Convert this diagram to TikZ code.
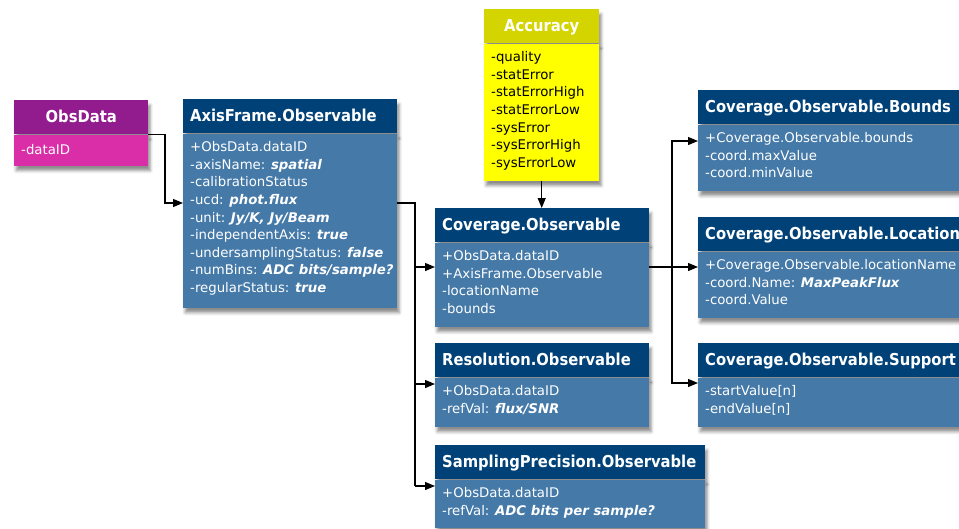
\documentclass[tikz,border=0pt]{standalone}
\usepackage{fontspec}
\setmainfont{DejaVu Sans}
\newfontfamily\hdrfont{DejaVu Sans Condensed}
\usetikzlibrary{arrows.meta,shadows.blur}
\definecolor{hblue}{RGB}{0,66,120}
\definecolor{bblue}{RGB}{68,121,168}
\definecolor{hpurple}{RGB}{146,28,142}
\definecolor{bmag}{RGB}{218,46,168}
\definecolor{hyel}{RGB}{212,212,0}
\definecolor{byel}{RGB}{255,255,0}
\tikzset{
  shd/.style={blur shadow={shadow xshift=2pt,shadow yshift=-5pt,shadow blur radius=3pt,shadow opacity=45}},
  hdr/.style={rectangle,anchor=north west,inner xsep=7pt,inner ysep=0pt,minimum height=34pt,
    text height=12pt,text depth=1pt,font=\hdrfont\fontsize{16.4}{18}\selectfont\bfseries,text=white,align=left,shd},
  bodybox/.style={rectangle,anchor=north west,inner sep=0pt,shd},
  txt/.style={anchor=north west,inner sep=0pt,align=left,text=white,
    font=\fontsize{13.3}{17.6}\selectfont,execute at begin node=\rule{0pt}{12pt}},
  conn/.style={draw=black,line width=1.2pt},
  arr/.style={conn,-{Triangle[length=10pt,width=8pt]}}
}
\newcommand{\bi}[1]{\textbf{\textit{#1}}}
\begin{document}
\begin{tikzpicture}[x=1pt,y=-1pt]
\useasboundingbox (0,0) rectangle (959,528);
% ObsData
\node[hdr,fill=hpurple,text width=120pt,align=center] (obs-h) at (14,100) {ObsData};
\node[bodybox,fill=bmag,minimum width=134pt,minimum height=31pt] (obs) at (obs-h.south west) {};
\node[txt] (obs-t) at ([xshift=7pt,yshift=-8pt]obs.north west) {-dataID};
% AxisFrame
\node[hdr,fill=hblue,text width=200pt] (axis-h) at (183,99) {AxisFrame.Observable};
\node[bodybox,fill=bblue,minimum width=214pt,minimum height=174pt] (axis) at (axis-h.south west) {};
\node[txt] (axis-t) at ([xshift=7pt,yshift=-8pt]axis.north west) {+ObsData.dataID\\-axisName: \bi{spatial}\\-calibrationStatus\\-ucd: \bi{phot.flux}\\-unit: \bi{Jy/K, Jy/Beam}\\-independentAxis: \bi{true}\\-undersamplingStatus: \bi{false}\\-numBins: \bi{ADC bits/sample?}\\-regularStatus: \bi{true}};
% Accuracy
\node[hdr,fill=hyel,text width=101pt,align=center] (acc-h) at (484,9) {Accuracy};
\node[bodybox,fill=byel,minimum width=115pt,minimum height=137pt] (acc) at (acc-h.south west) {};
\node[txt,text=black] (acc-t) at ([xshift=7pt,yshift=-8pt]acc.north west) {-quality\\-statError\\-statErrorHigh\\-statErrorLow\\-sysError\\-sysErrorHigh\\-sysErrorLow};
% Coverage
\node[hdr,fill=hblue,text width=200pt] (cov-h) at (435,208) {Coverage.Observable};
\node[bodybox,fill=bblue,minimum width=214pt,minimum height=84pt] (cov) at (cov-h.south west) {};
\node[txt] (cov-t) at ([xshift=7pt,yshift=-8pt]cov.north west) {+ObsData.dataID\\+AxisFrame.Observable\\-locationName\\-bounds};
% Resolution
\node[hdr,fill=hblue,text width=200pt] (res-h) at (435,343) {Resolution.Observable};
\node[bodybox,fill=bblue,minimum width=214pt,minimum height=49pt] (res) at (res-h.south west) {};
\node[txt] (res-t) at ([xshift=7pt,yshift=-8pt]res.north west) {+ObsData.dataID\\-refVal: \bi{flux/SNR}};
% SamplingPrecision
\node[hdr,fill=hblue,text width=256pt] (samp-h) at (435,445) {SamplingPrecision.Observable};
\node[bodybox,fill=bblue,minimum width=270pt,minimum height=48pt] (samp) at (samp-h.south west) {};
\node[txt] (samp-t) at ([xshift=7pt,yshift=-8pt]samp.north west) {+ObsData.dataID\\-refVal: \bi{ADC bits per sample?}};
% Bounds
\node[hdr,fill=hblue,text width=256pt] (bnd-h) at (698,90) {Coverage.Observable.Bounds};
\node[bodybox,fill=bblue,minimum width=270pt,minimum height=66pt] (bnd) at (bnd-h.south west) {};
\node[txt] (bnd-t) at ([xshift=7pt,yshift=-8pt]bnd.north west) {+Coverage.Observable.bounds\\-coord.maxValue\\-coord.minValue};
% Location
\node[hdr,fill=hblue,text width=256pt] (loc-h) at (698,217) {Coverage.Observable.Location};
\node[bodybox,fill=bblue,minimum width=270pt,minimum height=66pt] (loc) at (loc-h.south west) {};
\node[txt] (loc-t) at ([xshift=7pt,yshift=-8pt]loc.north west) {+Coverage.Observable.locationName\\-coord.Name: \bi{MaxPeakFlux}\\-coord.Value};
% Support
\node[hdr,fill=hblue,text width=256pt] (sup-h) at (698,343) {Coverage.Observable.Support};
\node[bodybox,fill=bblue,minimum width=270pt,minimum height=49pt] (sup) at (sup-h.south west) {};
\node[txt] (sup-t) at ([xshift=7pt,yshift=-8pt]sup.north west) {-startValue[n]\\-endValue[n]};
% connectors
\coordinate (j1) at (165,203);
\draw[arr] (obs-h.south east) -| (j1) -- (j1 -| axis.west);
\coordinate (j2) at (415,203);
\coordinate (j3) at (415,486);
\draw[conn] (j2 -| axis.east) -- (j2) -- (j3);
\draw[arr] (j3) -- (j3 -| samp.west);
\draw[arr] (415,267) coordinate (k1) -- (k1 -| cov.west);
\draw[arr] (415,384) coordinate (k2) -- (k2 -| res.west);
\draw[arr] (acc.south) -- (acc.south |- cov-h.north);
\coordinate (m0) at (672,267);
\coordinate (m1) at (672,141);
\coordinate (m2) at (672,383);
\draw[conn] (m0 -| cov.east) -- (m0);
\draw[arr] (m0) -- (m0 -| loc.west);
\draw[arr] (m0) -- (m1) -- (m1 -| bnd.west);
\draw[arr] (m0) -- (m2) -- (m2 -| sup.west);
\end{tikzpicture}
\end{document}
